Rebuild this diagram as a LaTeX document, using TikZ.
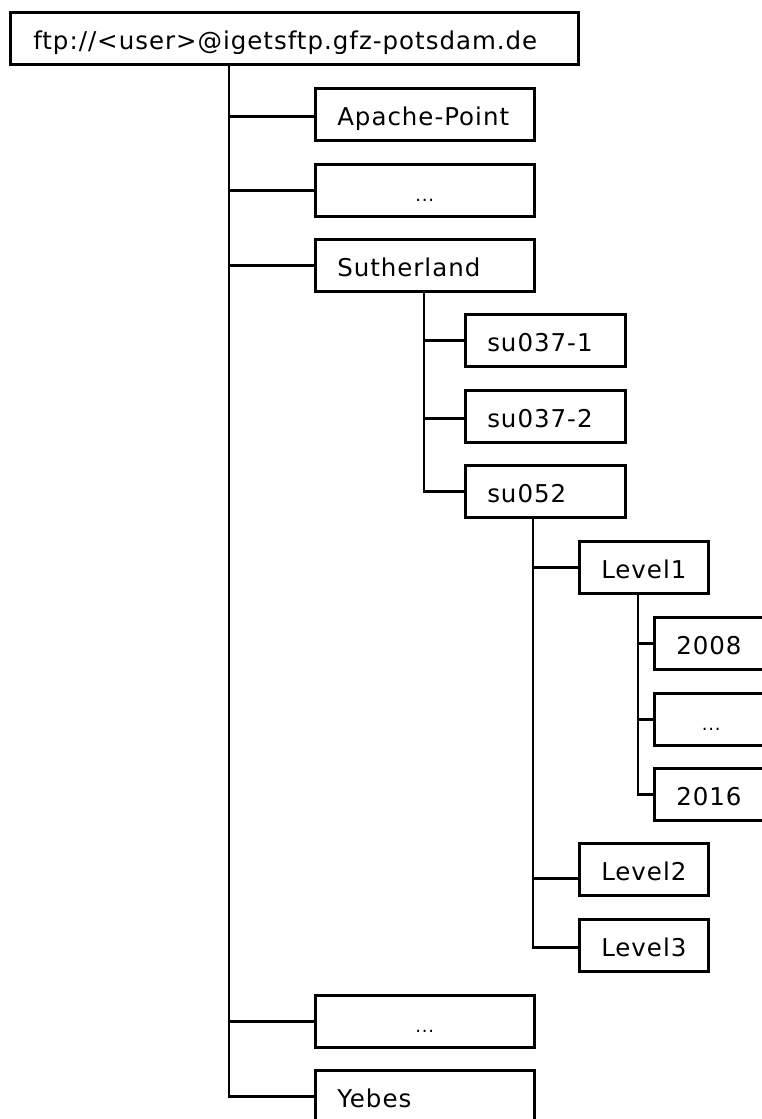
\documentclass[tikz,border=0pt]{standalone}
\usepackage{fontspec}
\setmainfont{DejaVu Sans}[LetterSpace=4]
\begin{document}
\begin{tikzpicture}[x=1pt,y=-1pt,
  box/.style={draw, line width=2.5pt, anchor=north west, inner xsep=22pt, inner ysep=0pt,
    minimum height=52pt, text height=22pt, text depth=0pt, align=left,
    font=\fontsize{24.5pt}{28pt}\selectfont},
  mainbox/.style={box, text width=175pt, minimum width=219pt},
  subbox/.style={box, text width=116pt, minimum width=160pt},
  lvlbox/.style={box, text width=85pt, minimum width=129pt},
  yrbox/.style={box, text width=70pt, minimum width=114pt},
  dotsbox/.style={align=center, font=\fontsize{18pt}{22pt}\selectfont},
  link/.style={line width=2.5pt}]
\useasboundingbox (0,0) rectangle (761,1119);

\node[box, inner xsep=23pt, text width=522pt, minimum width=568pt] (root) at (9,11) {ftp://<user>@igetsftp.gfz-potsdam.de};
\node[mainbox] (apache) at (314,87) {Apache-Point};
\node[mainbox, dotsbox] (dotsA) at (314,163) {...};
\node[mainbox] (suth) at (314,238) {Sutherland};
\node[subbox] (su1) at (464,313) {su037-1};
\node[subbox] (su2) at (464,389) {su037-2};
\node[subbox] (su52) at (464,464) {su052};
\node[lvlbox] (lv1) at (578,540) {Level1};
\node[yrbox] (y2008) at (653,616) {2008};
\node[yrbox, dotsbox] (dotsC) at (653,692) {...};
\node[yrbox] (y2016) at (653,767) {2016};
\node[lvlbox] (lv2) at (578,842) {Level2};
\node[lvlbox] (lv3) at (578,918) {Level3};
\node[mainbox, dotsbox] (dotsB) at (314,994) {...};
\node[mainbox] (yebes) at (314,1069) {Yebes};

\coordinate (t0) at (229,63);
\coordinate (t1) at (424,290);
\coordinate (t2) at (533,516);
\coordinate (t3) at (638,592);

\draw[link] (t0) |- (yebes.west);
\draw[link] ([yshift=-2pt]t0 |- apache.west) -- ([yshift=-2pt]apache.west);
\draw[link] (t0 |- dotsA.west) -- (dotsA.west);
\draw[link] (t0 |- suth.west) -- (suth.west);
\draw[link] (t0 |- dotsB.west) -- (dotsB.west);

\draw[link] (t1) |- (su52.west);
\draw[link] (t1 |- su1.west) -- (su1.west);
\draw[link] ([yshift=-2pt]t1 |- su2.west) -- ([yshift=-2pt]su2.west);

\draw[link] (t2) |- ([yshift=-2pt]lv3.west);
\draw[link] (t2 |- lv1.west) -- (lv1.west);
\draw[link] ([yshift=-9pt]t2 |- lv2.west) -- ([yshift=-9pt]lv2.west);

\draw[link] (t3) |- (y2016.west);
\draw[link] (t3 |- y2008.west) -- (y2008.west);
\draw[link] (t3 |- dotsC.west) -- (dotsC.west);
\end{tikzpicture}
\end{document}
